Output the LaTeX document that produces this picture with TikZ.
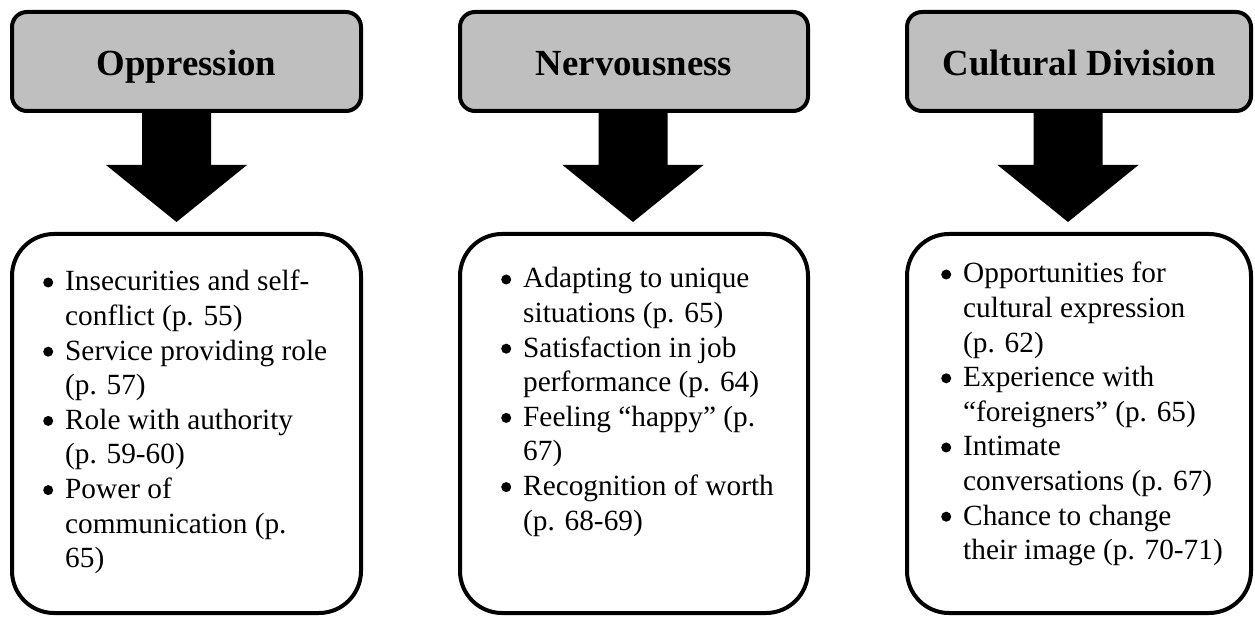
\documentclass[tikz,border=0pt]{standalone}
\usepackage{fontspec}
\setmainfont{Liberation Serif}
\tikzset{
  topbox/.style={draw=black, line width=4pt, fill=headgray, rounded corners=15pt, inner sep=0pt, text height=36pt, text depth=7pt, font=\bfseries\fontsize{36.8}{40}\selectfont},
  listbox/.style={draw=black, line width=4pt, fill=white, rounded corners=42pt, inner sep=0pt},
  listtext/.style={anchor=base west, inner sep=0pt, align=left, font=\fontsize{29.3}{34.6}\selectfont},
  blockarrow/.style={fill=black}
}
\definecolor{headgray}{HTML}{BFBFBF}
\newcommand{\bul}{\makebox[22pt][l]{\tikz[baseline=0pt,x=1cm,y=1cm]\fill (5pt,8.5pt) circle[radius=5pt];}}
\newcommand{\downarrowshape}[1]{%
  \fill[blockarrow] (#1-34.5,112) -- (#1+34.5,112) -- (#1+34.5,165) -- (#1+70.5,165)
     -- (#1,222) -- (#1-70.5,165) -- (#1-34.5,165) -- cycle;}
\begin{document}
\begin{tikzpicture}[x=1pt,y=-1pt]
\useasboundingbox (0,0) rectangle (1255,617);
% arrows
\downarrowshape{176.5}
\downarrowshape{633}
\downarrowshape{1068}
% top boxes
\node[topbox, minimum width=349pt, minimum height=99pt] (t1) at (186.5,61.5) {Oppression};
\node[topbox, minimum width=348pt, minimum height=99pt] (t2) at (634,61.5) {Nervousness};
\node[topbox, minimum width=344pt, minimum height=99pt] (t3) at (1079,61.5) {Cultural Division};
% bottom boxes
\node[listbox, minimum width=349pt, minimum height=379pt] (b1) at (186.5,423.5) {};
\node[listbox, minimum width=348pt, minimum height=379pt] (b2) at (634,423.5) {};
\node[listbox, minimum width=344pt, minimum height=379pt] (b3) at (1079,423.5) {};
% lists
\node[listtext] (l1) at (43,291) {\begin{tabular}[t]{@{}l@{}l@{}}
\bul & Insecurities and self-\\
 & conflict (p. 55)\\
\bul & Service providing role\\
 & (p. 57)\\
\bul & Role with authority\\
 & (p. 59-60)\\
\bul & Power of\\
 & communication (p.\\
 & 65)
\end{tabular}};
\node[listtext] (l2) at (501,288) {\begin{tabular}[t]{@{}l@{}l@{}}
\bul & Adapting to unique\\
 & situations (p. 65)\\
\bul & Satisfaction in job\\
 & performance (p. 64)\\
\bul & Feeling ``happy'' (p.\\
 & 67)\\
\bul & Recognition of worth\\
 & (p. 68-69)
\end{tabular}};
\node[listtext] (l3) at (941,283) {\begin{tabular}[t]{@{}l@{}l@{}}
\bul & Opportunities for\\
 & cultural expression\\
 & (p. 62)\\
\bul & Experience with\\
 & ``foreigners'' (p. 65)\\
\bul & Intimate\\
 & conversations (p. 67)\\
\bul & Chance to change\\
 & their image (p. 70-71)
\end{tabular}};
\end{tikzpicture}
\end{document}
